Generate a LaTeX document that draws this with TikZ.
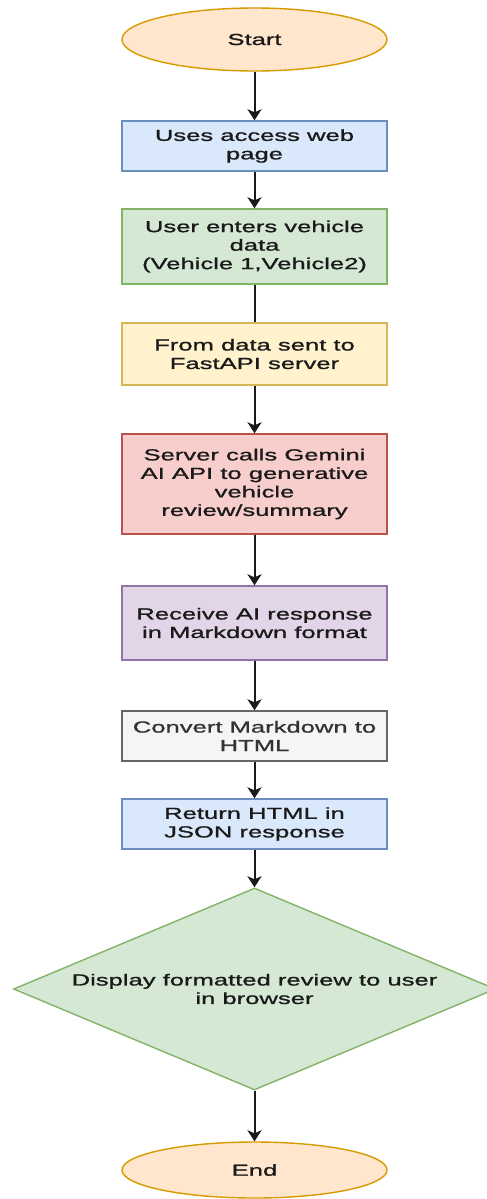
\documentclass[tikz,border=0pt]{standalone}
\usepackage{fontspec}
\setmainfont{Liberation Sans}[FakeStretch=1.6,FakeBold=1.2]
\usetikzlibrary{shapes.geometric,arrows.meta}
\definecolor{termfill}{HTML}{FFE6CC}
\definecolor{termdraw}{HTML}{D79B00}
\definecolor{bluefill}{HTML}{DAE8FC}
\definecolor{bluedraw}{HTML}{6C8EBF}
\definecolor{greenfill}{HTML}{D5E8D4}
\definecolor{greendraw}{HTML}{82B366}
\definecolor{yellowfill}{HTML}{FFF2CC}
\definecolor{yellowdraw}{HTML}{D6B656}
\definecolor{redfill}{HTML}{F8CECC}
\definecolor{reddraw}{HTML}{B85450}
\definecolor{purplefill}{HTML}{E1D5E7}
\definecolor{purpledraw}{HTML}{9673A6}
\definecolor{grayfill}{HTML}{F5F5F5}
\definecolor{graydraw}{HTML}{666666}
\definecolor{graytext}{HTML}{333333}
\definecolor{txt}{HTML}{1A1A1A}
\definecolor{linec}{HTML}{1A1A1A}
\begin{document}
\begin{tikzpicture}[x=1pt,y=-1pt,
  every node/.style={font=\fontsize{16}{18.5}\selectfont, align=center, inner sep=0pt, text=txt},
  proc/.style={rectangle, draw, line width=1.4pt, minimum width=265pt},
  term/.style={ellipse, draw=termdraw, fill=termfill, line width=1.4pt, minimum width=265pt},
  flow/.style={line width=2pt, draw=linec, -{Stealth[length=11pt,width=14pt,inset=3pt]}},
  link/.style={line width=2pt, draw=linec}]
\useasboundingbox (0,0) rectangle (487,1199);
\fill[white] (0,0) rectangle (487,1199);
\clip (0,0) rectangle (487,1199);

\node[term, minimum height=63pt] (start) at (254.5,39.5) {Start};
\node[proc, fill=bluefill, draw=bluedraw, minimum height=50pt] (b1) at (254.5,146) {Uses access web\\page};
\node[proc, fill=greenfill, draw=greendraw, minimum height=75pt] (b2) at (254.5,246.5) {User enters vehicle\\data\\(Vehicle 1,Vehicle2)};
\node[proc, fill=yellowfill, draw=yellowdraw, minimum height=62pt] (b3) at (254.5,354) {From data sent to\\FastAPI server};
\node[proc, fill=redfill, draw=reddraw, minimum height=100pt] (b4) at (254.5,484) {Server calls Gemini\\AI API to generative\\vehicle\\review/summary};
\node[proc, fill=purplefill, draw=purpledraw, minimum height=74pt] (b5) at (254.5,623) {Receive AI response\\in Markdown format};
\node[proc, fill=grayfill, draw=graydraw, text=graytext, minimum height=50pt] (b6) at (254.5,736) {Convert Markdown to\\HTML};
\node[proc, fill=bluefill, draw=bluedraw, minimum height=50pt] (b7) at (254.5,824) {Return HTML in\\JSON response};
\node[diamond, fill=greenfill, draw=greendraw, line width=1.4pt, aspect=2.386, minimum width=482pt, minimum height=202pt] (dec) at (254.5,989) {Display formatted review to user\\in browser};
\node[term, minimum height=56pt] (end) at (254.5,1170) {End};

\draw[flow] (start) -- (b1);
\draw[flow] (b1) -- (b2);
\draw[link] (b2) -- (b3);
\draw[flow] (b3) -- (b4);
\draw[flow] (b4) -- (b5);
\draw[flow] (b5) -- (b6);
\draw[flow] (b6) -- (b7);
\draw[flow] (b7) -- (dec);
\draw[flow] (dec) -- (end);
\end{tikzpicture}
\end{document}
